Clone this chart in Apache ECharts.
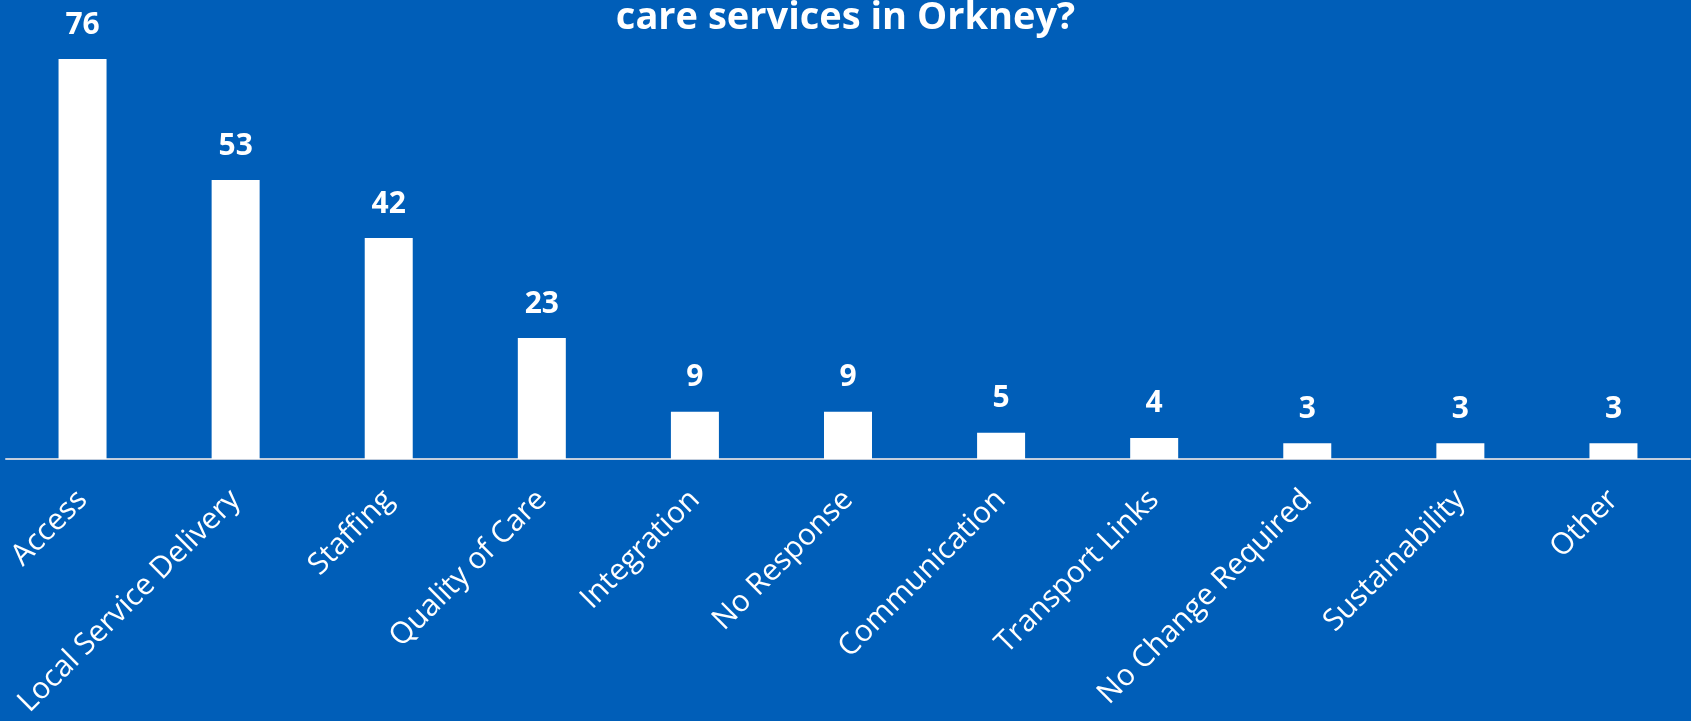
<!DOCTYPE html>
<html>
<head>
<meta charset="utf-8">
<style>
  html, body { margin: 0; padding: 0; background: #005EB8; }
  #chart { width: 1691px; height: 721px; }
</style>
<script src="https://cdn.jsdelivr.net/npm/echarts@6/dist/echarts.min.js"></script>
</head>
<body>
<div id="chart"></div>
<script>
// Themes raised in responses, most frequent first
const categories = [
  'Access', 'Local Service Delivery', 'Staffing', 'Quality of Care',
  'Integration', 'No Response', 'Communication', 'Transport Links',
  'No Change Required', 'Sustainability', 'Other'
];
const counts = [76, 53, 42, 23, 9, 9, 5, 4, 3, 3, 3];
const titleText = 'care services in Orkney?';

const chart = echarts.init(document.getElementById('chart'), null, { renderer: 'canvas' });

chart.setOption({
  backgroundColor: '#005EB8',
  animation: false,
  textStyle: { fontFamily: '"Open Sans", sans-serif' },
  title: {
    text: titleText,
    left: 'center',
    top: -6,
    textStyle: {
      color: '#ffffff',
      fontSize: 38,
      fontWeight: 'bold',
      fontFamily: '"Open Sans", sans-serif'
    }
  },
  grid: { left: 6, right: 1, top: 38, bottom: 262, containLabel: false },
  xAxis: {
    type: 'category',
    data: categories,
    axisLine: { show: true, lineStyle: { color: '#c3cedd', width: 2 } },
    axisTick: { show: false },
    axisLabel: {
      color: '#ffffff',
      fontSize: 30,
      rotate: 45,
      margin: 36,
      interval: 0,
      fontFamily: '"Open Sans", sans-serif'
    }
  },
  yAxis: {
    type: 'value',
    min: 0,
    max: 80,
    show: false,
    splitLine: { show: false }
  },
  series: [{
    type: 'bar',
    data: counts,
    barWidth: 48,
    itemStyle: { color: '#ffffff' },
    label: {
      show: true,
      position: 'top',
      distance: 19,
      color: '#ffffff',
      fontSize: 30,
      fontWeight: 'bold',
      fontFamily: '"Open Sans", sans-serif'
    }
  }]
});
</script>
</body>
</html>
